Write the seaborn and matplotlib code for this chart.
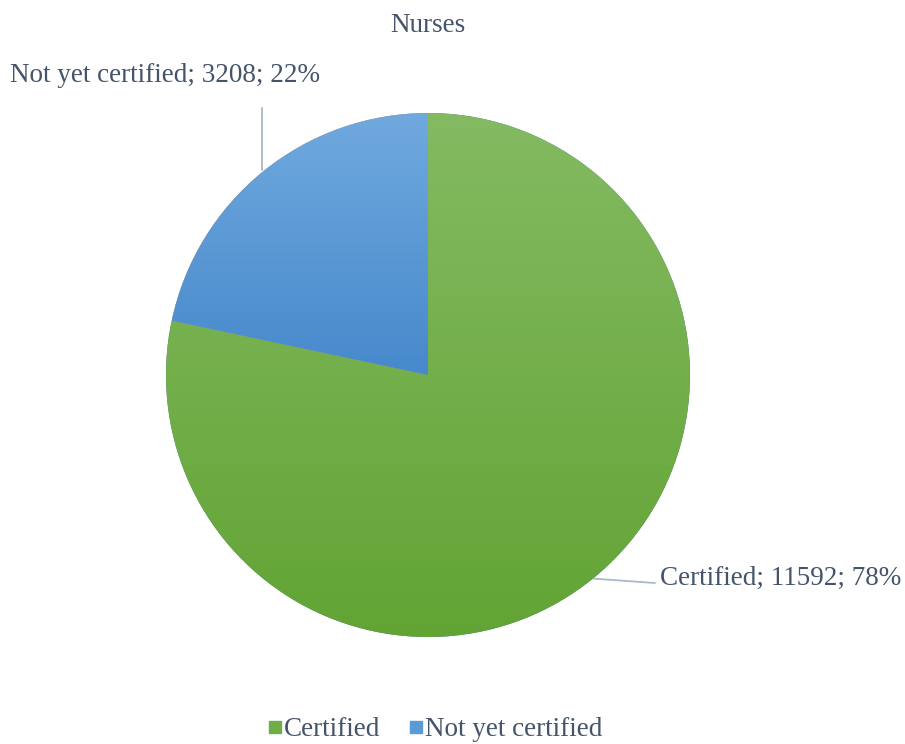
import numpy as np
import matplotlib
matplotlib.use("Agg")
import matplotlib.pyplot as plt
import seaborn as sns
from matplotlib.colors import LinearSegmentedColormap
from matplotlib.lines import Line2D

categories = ["Certified", "Not yet certified"]
counts = [11592, 3208]
percents = ["78%", "22%"]
title = "Nurses"

# top / bottom colours of each slice gradient
top_colors = ["#84BA62", "#70A9DE"]
bottom_colors = ["#62A434", "#4689CC"]

sns.set_theme(style="white")
plt.rcParams["font.family"] = ["Liberation Serif", "DejaVu Serif"]
text_color = "#44546A"
line_color = "#A9B8CB"

fig = plt.figure(figsize=(9.05, 7.44), dpi=100)
W, H = 905, 744
cx, cy, r = 428, 375, 262
ax = fig.add_axes([(cx - r) / W, (H - cy - r) / H, 2 * r / W, 2 * r / H])

wedges, _ = ax.pie(counts, startangle=90, counterclock=False, radius=1,
                   wedgeprops=dict(linewidth=0))
ax.axis("off")

# vertical gradient fill clipped to each wedge
for w, c_top, c_bot in zip(wedges, top_colors, bottom_colors):
    verts = w.get_path().vertices
    x0, x1 = verts[:, 0].min(), verts[:, 0].max()
    y0, y1 = verts[:, 1].min(), verts[:, 1].max()
    cmap = LinearSegmentedColormap.from_list("g", [c_bot, c_top])
    grad = np.linspace(0, 1, 256).reshape(-1, 1)
    im = ax.imshow(grad, cmap=cmap, extent=[x0, x1, y0, y1], origin="lower",
                   aspect="auto", zorder=2)
    im.set_clip_path(w)
ax.set_xlim(-1, 1)
ax.set_ylim(-1, 1)

def px(x, y):
    return (x - cx) / r, (cy - y) / r

fs = 19.5
# Not yet certified label with vertical leader line
lx, ly = px(10, 76)
ax.text(lx, ly, f"{categories[1]}; {counts[1]}; {percents[1]}", ha="left", va="center",
        fontsize=fs, color=text_color, clip_on=False)
x_l, y_top = px(262, 108)
ax.plot([x_l, x_l], [y_top, np.sqrt(1 - x_l ** 2) + 0.01], color=line_color, lw=1.3,
        clip_on=False, zorder=3)

# Certified label with leader from slice mid-angle
w = wedges[0]
mid = np.deg2rad((w.theta1 + w.theta2) / 2)
sx, sy = np.cos(mid), np.sin(mid)
ex, ey = px(655, 583)
ax.plot([sx, ex], [sy, ey], color=line_color, lw=1.3, clip_on=False, zorder=1)
tx, ty = px(660, 578)
ax.text(tx, ty, f"{categories[0]}; {counts[0]}; {percents[0]}", ha="left", va="center",
        fontsize=fs, color=text_color, clip_on=False)

fig.text(cx / W, 1 - 25 / H, title, ha="center", va="center", fontsize=fs, color=text_color)

handles = [Line2D([0], [0], marker="s", linestyle="none", markersize=9,
                  markerfacecolor=c, markeredgecolor=c) for c in ["#70AD47", "#5B9BD5"]]
fig.legend(handles, categories, loc="center", bbox_to_anchor=(432 / W, 1 - 730 / H),
           ncol=2, frameon=False, fontsize=fs, labelcolor=text_color,
           handletextpad=-0.15, columnspacing=0.8, handlelength=1.0)

fig.savefig("out.png", dpi=100)
